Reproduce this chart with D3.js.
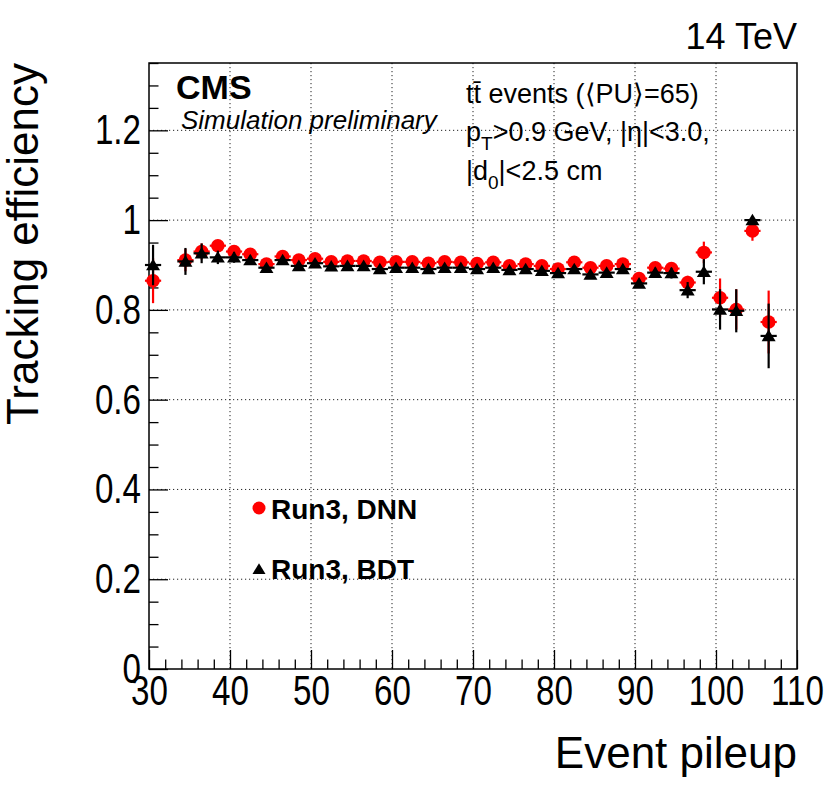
<!DOCTYPE html>
<html>
<head>
<meta charset="utf-8">
<script src="https://cdn.jsdelivr.net/npm/d3@7"></script>
<style>
  body { margin: 0; background: white; }
  text { font-family: 'Liberation Sans', Arial, Helvetica, sans-serif; }
</style>
</head>
<body>
<div id="chart"></div>
<script>
// bin centres (event pileup)
const pileup = [30.5, 34.5, 36.5, 38.5, 40.5, 42.5, 44.5, 46.5, 48.5, 50.5,
    52.5, 54.5, 56.5, 58.5, 60.5, 62.5, 64.5, 66.5, 68.5, 70.5,
    72.5, 74.5, 76.5, 78.5, 80.5, 82.5, 84.5, 86.5, 88.5, 90.5,
    92.5, 94.5, 96.5, 98.5, 100.5, 102.5, 104.5, 106.5]

// Run3, DNN
const dnnEff = [0.865, 0.911, 0.930, 0.943, 0.930, 0.924, 0.902, 0.919, 0.911, 0.914,
    0.907, 0.909, 0.909, 0.906, 0.907, 0.907, 0.904, 0.907, 0.906, 0.903,
    0.906, 0.898, 0.902, 0.898, 0.891, 0.906, 0.894, 0.898, 0.902, 0.870,
    0.894, 0.892, 0.861, 0.928, 0.827, 0.801, 0.976, 0.773]
const dnnErr = [0.050, 0.025, 0.018, 0.013, 0.010, 0.008, 0.007, 0.006, 0.006, 0.006,
    0.006, 0.006, 0.006, 0.006, 0.006, 0.006, 0.006, 0.006, 0.006, 0.006,
    0.006, 0.006, 0.006, 0.006, 0.007, 0.007, 0.007, 0.007, 0.008, 0.009,
    0.010, 0.011, 0.015, 0.024, 0.043, 0.045, 0.022, 0.070]

// Run3, BDT
const bdtEff = [0.900, 0.908, 0.926, 0.917, 0.917, 0.911, 0.894, 0.911, 0.898, 0.904,
    0.897, 0.898, 0.898, 0.891, 0.894, 0.894, 0.891, 0.894, 0.894, 0.891,
    0.894, 0.889, 0.891, 0.887, 0.882, 0.891, 0.879, 0.883, 0.891, 0.859,
    0.883, 0.882, 0.844, 0.885, 0.801, 0.798, 1.000, 0.742]
const bdtErr = [0.045, 0.030, 0.022, 0.015, 0.012, 0.010, 0.008, 0.007, 0.007, 0.007,
    0.007, 0.007, 0.007, 0.007, 0.007, 0.007, 0.007, 0.007, 0.007, 0.007,
    0.007, 0.007, 0.007, 0.007, 0.008, 0.008, 0.008, 0.008, 0.009, 0.010,
    0.011, 0.012, 0.018, 0.028, 0.045, 0.048, 0.005, 0.072]

const binHalfWidth = 1

const xMajor = [30, 40, 50, 60, 70, 80, 90, 100, 110]
const xMinor = [32, 34, 36, 38, 42, 44, 46, 48, 52, 54, 56, 58, 62, 64, 66, 68,
    72, 74, 76, 78, 82, 84, 86, 88, 92, 94, 96, 98, 102, 104, 106, 108]
const yMajor = [0, 0.2, 0.4, 0.6, 0.8, 1.0, 1.2]
const yMinor = [0.05, 0.1, 0.15, 0.25, 0.3, 0.35, 0.45, 0.5, 0.55, 0.65, 0.7, 0.75,
    0.85, 0.9, 0.95, 1.05, 1.1, 1.15, 1.25, 1.3, 1.35]

const width = 830
const height = 797
const frame = { left: 149, right: 797, top: 63, bottom: 669 }
const labelSquash = 0.79

const svg = d3.select('#chart').append('svg')
    .attr('width', width)
    .attr('height', height)

const x = d3.scaleLinear().domain([30, 110]).range([frame.left, frame.right])
const y = d3.scaleLinear().domain([0, 1.35]).range([frame.bottom, frame.top])

// grid
svg.append('g').selectAll('line')
    .data(xMajor.slice(1, -1)).enter().append('line')
    .attr('x1', d => x(d)).attr('x2', d => x(d))
    .attr('y1', frame.top).attr('y2', frame.bottom)
    .attr('stroke', '#222').attr('stroke-width', 1).attr('stroke-dasharray', '1.2,2.8')
svg.append('g').selectAll('line')
    .data(yMajor.slice(1)).enter().append('line')
    .attr('x1', frame.left).attr('x2', frame.right)
    .attr('y1', d => y(d)).attr('y2', d => y(d))
    .attr('stroke', '#222').attr('stroke-width', 1).attr('stroke-dasharray', '1.2,2.8')

// axes
const fmt = d => String(+d.toFixed(1))

const xAxis = svg.append('g').attr('transform', `translate(0, ${frame.bottom})`)
    .call(d3.axisBottom(x).tickValues(xMajor).tickSize(-19).tickPadding(6).tickFormat(fmt))
const xAxisMinor = svg.append('g').attr('transform', `translate(0, ${frame.bottom})`)
    .call(d3.axisBottom(x).tickValues(xMinor).tickSize(-9.5).tickFormat(''))
const yAxis = svg.append('g').attr('transform', `translate(${frame.left}, 0)`)
    .call(d3.axisLeft(y).tickValues(yMajor).tickSize(-19).tickPadding(8).tickFormat(fmt))
const yAxisMinor = svg.append('g').attr('transform', `translate(${frame.left}, 0)`)
    .call(d3.axisLeft(y).tickValues(yMinor).tickSize(-9.5).tickFormat(''))

for (const ax of [xAxis, xAxisMinor, yAxis, yAxisMinor]) {
    ax.select('.domain').remove()
    ax.selectAll('.tick line').attr('stroke', '#000').attr('stroke-width', 1.3)
    ax.selectAll('text')
        .attr('font-family', "'Liberation Sans', Arial, sans-serif")
        .attr('font-size', 42).attr('fill', '#000')
}
// tick labels are drawn narrow, as in the original
xAxis.selectAll('text').attr('transform', `scale(${labelSquash}, 1)`)
yAxis.selectAll('text')
    .attr('x', -8 / labelSquash)
    .attr('transform', `scale(${labelSquash}, 1)`)

// frame
svg.append('rect')
    .attr('x', frame.left).attr('y', frame.top)
    .attr('width', frame.right - frame.left).attr('height', frame.bottom - frame.top)
    .attr('fill', 'none').attr('stroke', '#000').attr('stroke-width', 1.5)

// data
const dnn = pileup.map((p, i) => ({ x: p, y: dnnEff[i], e: dnnErr[i] }))
const bdt = pileup.map((p, i) => ({ x: p, y: bdtEff[i], e: bdtErr[i] }))

const triangle = (cx, cy, s) => `M${cx},${cy - s * 0.9} L${cx + s},${cy + s * 0.75} L${cx - s},${cy + s * 0.75} Z`

function drawSeries (data, color, marker) {
    const g = svg.append('g')
    g.selectAll('.ey').data(data).enter().append('line')
        .attr('x1', d => x(d.x)).attr('x2', d => x(d.x))
        .attr('y1', d => y(d.y - d.e)).attr('y2', d => y(d.y + d.e))
        .attr('stroke', color).attr('stroke-width', 2.2)
    g.selectAll('.ex').data(data).enter().append('line')
        .attr('x1', d => x(d.x - binHalfWidth)).attr('x2', d => x(d.x + binHalfWidth))
        .attr('y1', d => y(d.y)).attr('y2', d => y(d.y))
        .attr('stroke', color).attr('stroke-width', 2.2)
    if (marker === 'circle') {
        g.selectAll('circle').data(data).enter().append('circle')
            .attr('cx', d => x(d.x)).attr('cy', d => y(d.y)).attr('r', 6.8)
            .attr('fill', color)
    } else {
        g.selectAll('path').data(data).enter().append('path')
            .attr('d', d => triangle(x(d.x), y(d.y), 7))
            .attr('fill', color)
    }
}

drawSeries(dnn, '#ff0000', 'circle')
drawSeries(bdt, '#000000', 'triangle')

// legend
svg.append('circle').attr('cx', 259).attr('cy', 508).attr('r', 6.5).attr('fill', '#ff0000')
svg.append('text').attr('x', 271).attr('y', 519).attr('font-size', 28).attr('font-weight', 'bold')
    .text('Run3, DNN')
svg.append('path').attr('d', triangle(259, 569, 6.5)).attr('fill', '#000')
svg.append('text').attr('x', 271).attr('y', 579).attr('font-size', 28).attr('font-weight', 'bold')
    .text('Run3, BDT')

// labels
svg.append('text').attr('x', frame.right).attr('y', 768).attr('text-anchor', 'end')
    .attr('font-size', 44).text('Event pileup')
svg.append('text').attr('transform', `translate(38, ${frame.top}) rotate(-90)`)
    .attr('text-anchor', 'end').attr('font-size', 44).text('Tracking efficiency')
svg.append('text').attr('x', frame.right).attr('y', 49).attr('text-anchor', 'end')
    .attr('font-size', 36).text('14 TeV')

svg.append('text').attr('x', 176).attr('y', 99).attr('font-size', 34).attr('font-weight', 'bold')
    .text('CMS')
svg.append('text').attr('x', 181).attr('y', 129).attr('font-size', 26).attr('font-style', 'italic')
    .text('Simulation preliminary')

const info = svg.append('g').attr('font-size', 27)
info.append('text').attr('x', 466).attr('y', 103).text('tt\u0304 events (\u27e8PU\u27e9=65)')
const l2 = info.append('text').attr('x', 466).attr('y', 141)
l2.append('tspan').text('p')
l2.append('tspan').attr('font-size', 19).attr('dy', 9).text('T')
l2.append('tspan').attr('dy', -9).text('>0.9 GeV, |\u03b7|<3.0,')
const l3 = info.append('text').attr('x', 466).attr('y', 180)
l3.append('tspan').text('|d')
l3.append('tspan').attr('font-size', 19).attr('dy', 9).text('0')
l3.append('tspan').attr('dy', -9).text('|<2.5 cm')
</script>
</body>
</html>
